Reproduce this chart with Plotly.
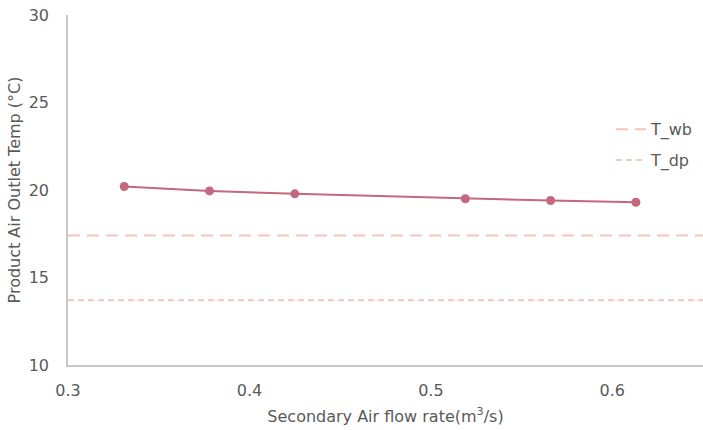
import plotly.graph_objects as go

flow_rate = [0.331, 0.378, 0.425, 0.519, 0.566, 0.613]
outlet_temp = [20.2, 19.95, 19.78, 19.5, 19.4, 19.3]
t_wb = 17.4
t_dp = 13.7
x_range = [0.3, 0.65]
y_range = [10, 30]

line_color = "#C4677F"
ref_color = "#F3C6BC"
text_color = "#595959"
axis_color = "#C8C8C8"

fig = go.Figure()
fig.add_trace(go.Scatter(
    x=flow_rate, y=outlet_temp, mode="lines+markers",
    line=dict(color=line_color, width=2),
    marker=dict(color=line_color, size=9),
    showlegend=False, name="Outlet"))
fig.add_trace(go.Scatter(
    x=x_range, y=[t_wb, t_wb], mode="lines", name="T_wb", legendgroup="a",
    line=dict(color=ref_color, width=2, dash="12px,7px")))
fig.add_trace(go.Scatter(
    x=x_range, y=[t_dp, t_dp], mode="lines", name="T_dp", legendgroup="b",
    line=dict(color=ref_color, width=2, dash="6px,4px")))

font_family = "'DejaVu Sans', sans-serif"
fig.update_layout(
    width=703, height=430,
    margin=dict(l=68, r=0, t=15, b=65),
    paper_bgcolor="white", plot_bgcolor="white",
    font=dict(family=font_family, color=text_color),
    legend=dict(x=0.855, y=0.722, xanchor="left", yanchor="top",
                font=dict(size=16, color=text_color),
                bgcolor="rgba(0,0,0,0)", tracegroupgap=7, itemwidth=30),
    xaxis=dict(range=x_range, tickvals=[0.3, 0.4, 0.5, 0.6],
               ticktext=["0.3", "0.4", "0.5", "0.6"],
               showgrid=False, zeroline=False, showline=True,
               linecolor=axis_color, linewidth=1.5, ticks="",
               ticklabelstandoff=10,
               tickfont=dict(size=16, color=text_color),
               title=dict(text="Secondary Air flow rate(m<sup>3</sup>/s)",
                          font=dict(size=16, color=text_color), standoff=12)),
    yaxis=dict(range=y_range, tickvals=[10, 15, 20, 25, 30],
               showgrid=False, zeroline=False, showline=True,
               linecolor=axis_color, linewidth=1.5, ticks="",
               ticklabelstandoff=14,
               tickfont=dict(size=16, color=text_color),
               title=dict(text="Product Air Outlet Temp (°C)",
                          font=dict(size=16, color=text_color), standoff=4)),
)
fig.write_html("out.html")
